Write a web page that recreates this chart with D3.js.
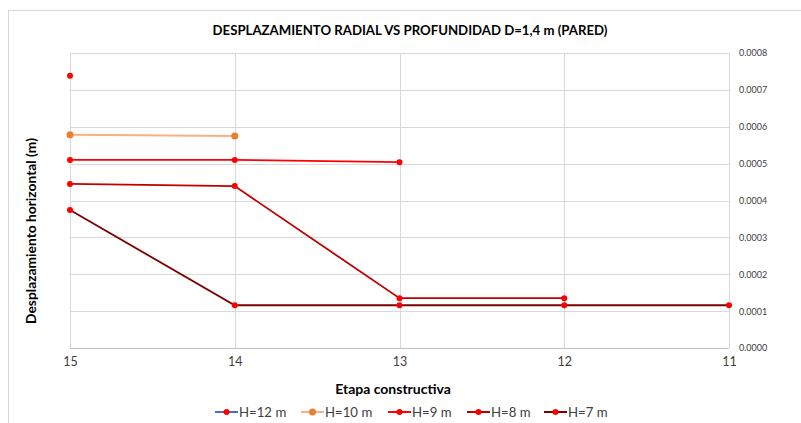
<!DOCTYPE html>
<html>
<head>
<meta charset="utf-8">
<script src="https://cdn.jsdelivr.net/npm/d3@7"></script>
<style>
  body { margin: 0; background: #fff; }
  text { font-family: Lato, "Open Sans", sans-serif; }
</style>
</head>
<body>
<div id="plot"></div>
<script>
// Etapa constructiva (x axis runs 15 -> 11)
const etapas = [15, 14, 13, 12, 11];
const yTicks = [0, 0.0001, 0.0002, 0.0003, 0.0004, 0.0005, 0.0006, 0.0007, 0.0008];

// series values (null = no point)
const seriesNames = ["H=12 m", "H=10 m", "H=9 m", "H=8 m", "H=7 m"];
const h12 = [0.000738, null, null, null, null];
const h10 = [0.000578, 0.000575, null, null, null];
const h9  = [0.000510, 0.000510, 0.000504, null, null];
const h8  = [0.000445, 0.000439, 0.000135, 0.000135, null];
const h7  = [0.000374, 0.000116, 0.000116, 0.000116, 0.000116];
const lineColors = ["#4472C4", "#F4B183", "#FF0000", "#C00000", "#7B0000"];
const markerColors = ["#FF0000", "#ED7D31", "#FF0000", "#FF0000", "#FF0000"];

const width = 801, height = 423;
const svg = d3.select("#plot").append("svg")
    .attr("width", width)
    .attr("height", height);

// chart outer border
svg.append("rect")
    .attr("x", 8.5).attr("y", 10.5)
    .attr("width", 800).attr("height", 420)
    .attr("fill", "none").attr("stroke", "#d9d9d9");

const x = d3.scaleLinear().domain([15, 11]).range([70, 729]);
const y = d3.scaleLinear().domain([0, 0.0008]).range([348, 53]);

// gridlines
svg.append("g").selectAll("line")
    .data(yTicks)
    .enter().append("line")
    .attr("x1", 70).attr("x2", 729)
    .attr("y1", d => Math.round(y(d)) + 0.5)
    .attr("y2", d => Math.round(y(d)) + 0.5)
    .attr("stroke", d => d === 0 ? "#bfbfbf" : "#d9d9d9");

svg.append("g").selectAll("line")
    .data(etapas)
    .enter().append("line")
    .attr("x1", d => Math.round(x(d)) + 0.5)
    .attr("x2", d => Math.round(x(d)) + 0.5)
    .attr("y1", 53).attr("y2", 348)
    .attr("stroke", "#d9d9d9");

// right y axis labels
const yAxis = d3.axisRight(y).tickValues(yTicks).tickFormat(d3.format(".4f")).tickSize(0).tickPadding(10);
svg.append("g")
    .attr("transform", "translate(729,0)")
    .call(yAxis)
    .call(g => g.select(".domain").remove())
    .selectAll("text")
    .attr("font-size", 9)
    .attr("fill", "#404040")
    .style("font-family", "Lato, sans-serif");

// bottom x axis labels
const xAxis = d3.axisBottom(x).tickValues(etapas).tickFormat(d3.format("d")).tickSize(0).tickPadding(9);
svg.append("g")
    .attr("transform", "translate(0,348)")
    .call(xAxis)
    .call(g => g.select(".domain").remove())
    .selectAll("text")
    .attr("font-size", 12.5)
    .attr("fill", "#404040")
    .style("font-family", "Lato, sans-serif");

// title and axis titles
svg.append("text")
    .attr("x", 410).attr("y", 35)
    .attr("text-anchor", "middle")
    .attr("font-size", 13.2).attr("font-weight", "bold")
    .attr("fill", "#000")
    .text("DESPLAZAMIENTO RADIAL VS PROFUNDIDAD D=1,4 m (PARED)");

svg.append("text")
    .attr("transform", "translate(36,231) rotate(-90)")
    .attr("text-anchor", "middle")
    .attr("font-size", 13.8).attr("font-weight", "bold")
    .text("Desplazamiento horizontal (m)");

svg.append("text")
    .attr("x", 393).attr("y", 394)
    .attr("text-anchor", "middle")
    .attr("font-size", 14).attr("font-weight", "bold")
    .text("Etapa constructiva");

// series
const allSeries = [h12, h10, h9, h8, h7];
const line = d3.line()
    .defined(d => d.v !== null)
    .x(d => x(d.e))
    .y(d => y(d.v));

allSeries.forEach((vals, i) => {
    const pts = vals.map((v, j) => ({ e: etapas[j], v: v }));
    svg.append("path")
        .datum(pts)
        .attr("fill", "none")
        .attr("stroke", lineColors[i])
        .attr("stroke-width", i === 1 ? 2 : 1.8)
        .attr("d", line);
    svg.append("g").selectAll("circle")
        .data(pts.filter(d => d.v !== null))
        .enter().append("circle")
        .attr("cx", d => x(d.e))
        .attr("cy", d => y(d.v))
        .attr("r", i === 1 ? 3.5 : 3)
        .attr("fill", markerColors[i]);
});

// legend
const legendX = [215, 301, 388, 467, 544];
const legend = svg.append("g").attr("transform", "translate(0,412)");
seriesNames.forEach((name, i) => {
    const g = legend.append("g").attr("transform", `translate(${legendX[i]},0)`);
    g.append("line").attr("x1", 0).attr("x2", 23).attr("y1", 0).attr("y2", 0)
        .attr("stroke", lineColors[i]).attr("stroke-width", 2);
    g.append("circle").attr("cx", 11.5).attr("cy", 0).attr("r", i === 1 ? 3.5 : 3)
        .attr("fill", markerColors[i]);
    g.append("text").attr("x", 24).attr("y", 4.5)
        .attr("font-size", 13.2).attr("fill", "#404040")
        .text(name);
});
</script>
</body>
</html>
